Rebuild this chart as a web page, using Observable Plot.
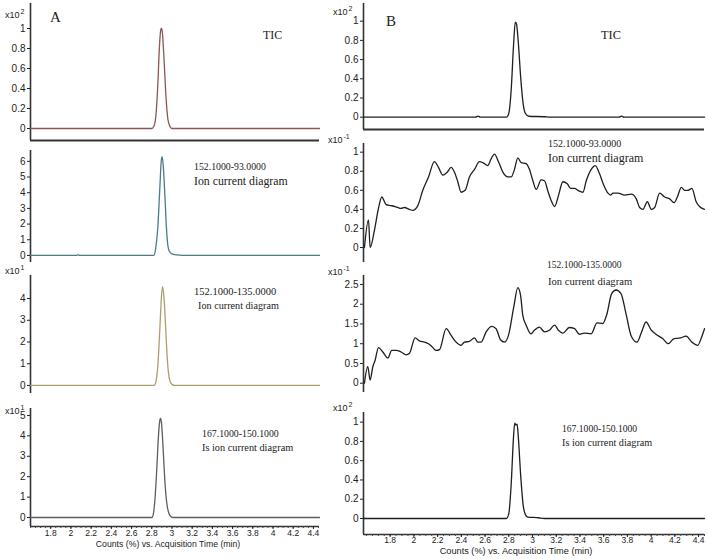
<!DOCTYPE html>
<html><head><meta charset="utf-8">
<script src="https://cdn.jsdelivr.net/npm/d3@7"></script>
<script src="https://cdn.jsdelivr.net/npm/@observablehq/plot@0.6"></script>
<style>
body{margin:0;background:#fff}
#wrap{position:relative;width:708px;height:559px;overflow:hidden;background:#fff;font-family:"Liberation Sans",Arial,sans-serif}
#wrap svg{position:absolute;overflow:visible}
.note{position:absolute;font-family:"Liberation Serif","Times New Roman",serif;color:#222;white-space:nowrap;line-height:1}
.mult{position:absolute;font-size:9px;color:#222;white-space:nowrap;line-height:1}
.mult sup{font-size:7px;vertical-align:4px;margin-left:1px}
</style></head><body><div id="wrap"></div><script>
// ---------- data ----------
const xTickValues = [1.8,2,2.2,2.4,2.6,2.8,3,3.2,3.4,3.6,3.8,4,4.2,4.4];
const xTitle = "Counts (%) vs. Acquisition Time (min)";
const panelLetters = ["A","B"];
const ticLabel = "TIC";
const transitions = ["152.1000-93.0000","152.1000-135.0000","167.1000-150.1000"];
const ionLabel = "Ion current diagram";
const isLabel = "Is ion current diagram";

// Column A traces [time (min), counts]
const a1Tic = [[1.6,0],[2.8,0],[2.82,0.02],[2.84,0.12],[2.86,0.44],[2.875,0.8],[2.89,0.99],[2.897,1.0],[2.905,0.96],[2.92,0.72],[2.94,0.33],[2.96,0.09],[2.98,0.02],[3.0,0],[4.46,0]];
const a2Ion93 = [[1.6,0],[2.05,0],[2.07,0.04],[2.09,0],[2.82,0],[2.84,0.5],[2.86,1.8],[2.88,4.3],[2.895,6.1],[2.903,6.3],[2.915,5.6],[2.93,3.8],[2.945,1.8],[2.96,0.6],[2.975,0.25],[3.0,0.1],[3.05,0.03],[3.1,0],[4.46,0]];
const a3Ion135 = [[1.6,0],[2.825,0],[2.84,0.15],[2.86,0.9],[2.88,2.6],[2.895,4.0],[2.907,4.55],[2.92,4.1],[2.935,2.9],[2.95,1.5],[2.965,0.6],[2.98,0.2],[3.0,0.05],[3.03,0],[4.46,0]];
const a4IsIon = [[1.6,0],[2.805,0],[2.815,0.15],[2.83,0.8],[2.85,2.4],[2.865,3.9],[2.878,4.7],[2.887,4.85],[2.897,4.6],[2.91,3.6],[2.925,2.2],[2.94,1.1],[2.955,0.5],[2.97,0.2],[2.99,0.05],[3.01,0],[4.46,0]];

// Column B traces
const b1Tic = [[1.575,0],[2.52,0],[2.54,0.012],[2.56,0],[2.78,0],[2.8,0.04],[2.82,0.28],[2.84,0.75],[2.855,0.99],[2.865,0.97],[2.88,0.78],[2.9,0.42],[2.92,0.15],[2.94,0.04],[2.97,0.01],[3.1,0.005],[3.15,0],[3.73,0],[3.75,0.012],[3.77,0],[4.45,0]];
const b2Ion93 = [[1.583,0],[1.617,0.29],[1.631,0],[1.667,0.18],[1.701,0.41],[1.729,0.53],[1.766,0.45],[1.808,0.44],[1.842,0.43],[1.864,0.42],[1.892,0.41],[1.92,0.42],[1.963,0.4],[1.991,0.39],[2.033,0.44],[2.075,0.6],[2.123,0.74],[2.173,0.9],[2.207,0.84],[2.244,0.76],[2.28,0.79],[2.314,0.84],[2.342,0.79],[2.37,0.69],[2.398,0.58],[2.432,0.6],[2.468,0.74],[2.511,0.82],[2.553,0.9],[2.581,0.89],[2.623,0.86],[2.651,0.93],[2.679,0.98],[2.713,0.9],[2.75,0.79],[2.792,0.74],[2.82,0.74],[2.848,0.82],[2.876,0.94],[2.904,0.89],[2.946,0.88],[2.974,0.82],[3.003,0.7],[3.031,0.61],[3.073,0.71],[3.101,0.7],[3.13,0.59],[3.158,0.49],[3.186,0.43],[3.22,0.55],[3.256,0.69],[3.293,0.67],[3.321,0.62],[3.355,0.62],[3.383,0.6],[3.425,0.58],[3.453,0.7],[3.495,0.82],[3.529,0.86],[3.566,0.77],[3.602,0.65],[3.636,0.57],[3.659,0.55],[3.678,0.57],[3.721,0.57],[3.777,0.55],[3.833,0.56],[3.875,0.51],[3.903,0.42],[3.931,0.4],[3.968,0.48],[4.002,0.4],[4.03,0.42],[4.072,0.57],[4.114,0.53],[4.157,0.51],[4.193,0.47],[4.221,0.53],[4.255,0.63],[4.283,0.6],[4.311,0.6],[4.344,0.62],[4.38,0.48],[4.408,0.43],[4.45,0.4]];
const b3Ion135 = [[1.583,0],[1.611,0.42],[1.631,0.08],[1.653,0.41],[1.673,0.58],[1.701,0.9],[1.738,0.79],[1.78,0.64],[1.814,0.83],[1.85,0.83],[1.892,0.79],[1.934,0.72],[1.963,0.76],[2.01,1.15],[2.047,1.07],[2.089,1.04],[2.123,1.0],[2.151,0.93],[2.187,0.83],[2.216,0.85],[2.272,1.38],[2.314,1.21],[2.356,1.04],[2.398,0.96],[2.426,1.04],[2.468,1.06],[2.511,1.15],[2.539,1.04],[2.567,1.04],[2.609,1.3],[2.657,1.44],[2.693,1.38],[2.73,1.1],[2.764,1.04],[2.797,1.21],[2.842,1.93],[2.876,2.42],[2.899,2.23],[2.918,1.72],[2.946,1.47],[2.987,1.25],[3.015,1.34],[3.058,1.42],[3.101,1.3],[3.142,1.34],[3.186,1.47],[3.218,1.34],[3.256,1.27],[3.31,1.41],[3.355,1.38],[3.394,1.24],[3.437,1.27],[3.495,1.25],[3.544,1.53],[3.591,1.51],[3.628,1.76],[3.667,2.27],[3.704,2.36],[3.746,2.27],[3.788,1.76],[3.833,1.19],[3.881,1.04],[3.92,1.3],[3.957,1.55],[4.002,1.34],[4.041,1.24],[4.097,1.13],[4.145,1.0],[4.193,1.13],[4.238,1.14],[4.295,1.19],[4.344,1.04],[4.393,0.96],[4.426,1.17],[4.45,1.38]];
const b4IsIon = [[1.575,0],[2.78,0],[2.8,0.05],[2.82,0.35],[2.84,0.85],[2.85,0.99],[2.86,0.97],[2.87,0.98],[2.88,0.85],[2.9,0.45],[2.92,0.15],[2.94,0.04],[2.96,0.015],[3.05,0.008],[3.1,0],[4.45,0]];

// y tick values per panel
const yTicksA1 = [0,0.2,0.4,0.6,0.8,1];
const yTicksA2 = [0,1,2,3,4,5,6];
const yTicksA3 = [0,1,2,3,4];
const yTicksA4 = [0,1,2,3,4,5];
const yTicksB1 = [0,0.2,0.4,0.6,0.8,1];
const yTicksB2 = [0,0.2,0.4,0.6,0.8,1];
const yTicksB3 = [0,0.5,1,1.5,2,2.5];
const yTicksB4 = [0,0.2,0.4,0.6,0.8,1];
const exponents = {A1:"2",A3:"1",A4:"1",B1:"2",B2:"-1",B3:"-1",B4:"2"};

// ---------- layout ----------
const xDomainA = [1.6, 4.46], xDomainB = [1.575, 4.45];
const panels = [
  {id:"A1", trace:a1Tic,   xDomain:xDomainA, yDomain:[-0.12,1.25], frame:[30,319,3,140],  yTicks:yTicksA1, color:"#8a5656", base:true},
  {id:"A2", trace:a2Ion93, xDomain:xDomainA, yDomain:[-0.45,6.69], frame:[30,319,150,262], yTicks:yTicksA2, color:"#4d7a88"},
  {id:"A3", trace:a3Ion135,xDomain:xDomainA, yDomain:[-0.37,5.06], frame:[30,319,275,393], yTicks:yTicksA3, color:"#ae9d6e"},
  {id:"A4", trace:a4IsIon, xDomain:xDomainA, yDomain:[-0.44,5.34], frame:[30,319,408,526], yTicks:yTicksA4, color:"#5e5e5e", xAxis:true, titleDx:-7, tickFont:8.5, titleFont:8.7, titleDy:20, tickSize:3, tickPad:0},
  {id:"B1", trace:b1Tic,   xDomain:xDomainB, yDomain:[-0.128,1.184], frame:[363,704,3,129], yTicks:yTicksB1, color:"#1f1f1f", base:true},
  {id:"B2", trace:b2Ion93, xDomain:xDomainB, yDomain:[-0.157,1.091], frame:[363,704,143,262], yTicks:yTicksB2, color:"#1f1f1f"},
  {id:"B3", trace:b3Ion135,xDomain:xDomainB, yDomain:[-0.235,2.727], frame:[363,704,275,392], yTicks:yTicksB3, color:"#1f1f1f"},
  {id:"B4", trace:b4IsIon, xDomain:xDomainB, yDomain:[-0.166,1.10], frame:[363,704,412,534], yTicks:yTicksB4, color:"#1f1f1f", xAxis:true, titleDx:-18, tickFont:8.5, titleFont:9.2, titleDy:19.5, tickSize:3, tickPad:-1}
];
const multPos = {A1:[5,8],A3:[5,264],A4:[5,404],B1:[333,5],B2:[328,133],B3:[328,265],B4:[333,401]};
const notes = [
  {text:panelLetters[0], x:50, y:17, size:15},
  {text:ticLabel, x:263, y:35, size:12},
  {text:panelLetters[1], x:386, y:21, size:15},
  {text:ticLabel, x:601, y:35, size:12.4},
  {text:transitions[0], x:194, y:167, size:9.8},
  {text:ionLabel, x:194, y:182, size:11.8},
  {text:transitions[0], x:548, y:144, size:10},
  {text:ionLabel, x:548, y:158, size:12},
  {text:transitions[1], x:194, y:292, size:10.5},
  {text:ionLabel, x:198, y:306, size:10.2},
  {text:transitions[1], x:547, y:266, size:9.5},
  {text:ionLabel, x:548, y:282, size:10.6},
  {text:transitions[2], x:202, y:434, size:9.8},
  {text:isLabel, x:202, y:448, size:10.3},
  {text:transitions[2], x:562, y:429, size:9.6},
  {text:isLabel, x:562, y:443, size:10.2}
];

// ---------- render ----------
const wrap = document.getElementById("wrap");
const fmt = d3.format("~g");
const minorTicks = d3.range(1.6, 4.451, 0.05);

for (const p of panels) {
  const [x0,x1,y0,y1] = p.frame;
  const ml = 44, mr = 4, mt = 4, mb = p.xAxis ? 30 : 4;
  const width = x1 - x0 + ml + mr, height = y1 - y0 + mt + mb;
  const marks = [
    Plot.axisY({ticks:p.yTicks, tickSize:3, tickPadding:2, tickFormat:fmt, fontSize:10, color:"#222", label:null}),
    Plot.ruleX([p.xDomain[0]], {stroke:"#333", strokeWidth:1.6}),
    Plot.line(p.trace, {x:d=>d[0], y:d=>d[1], stroke:p.color, strokeWidth:1.3, curve:"monotone-x"})
  ];
  if (p.base) marks.push(Plot.ruleY([p.yDomain[0]], {stroke:"#333", strokeWidth:2.2}));
  if (p.xAxis) {
    marks.push(
      Plot.ruleY([p.yDomain[0]], {stroke:"#333", strokeWidth:1.6}),
      Plot.axisX({ticks:minorTicks.filter(t=>t>=p.xDomain[0]), tickSize:2, tickFormat:()=>"", color:"#444", label:null}),
      Plot.axisX({ticks:xTickValues, tickSize:p.tickSize, tickPadding:p.tickPad, tickFormat:fmt, fontSize:p.tickFont, color:"#222", label:null}),
      Plot.text([xTitle], {frameAnchor:"bottom", dx:p.titleDx, dy:p.titleDy, fontSize:p.titleFont, fill:"#222"})
    );
  }
  const svg = Plot.plot({
    width, height, marginLeft:ml, marginRight:mr, marginTop:mt, marginBottom:mb,
    x:{domain:p.xDomain, axis:p.xAxis ? undefined : null},
    y:{domain:p.yDomain},
    style:{background:"transparent", fontFamily:"'Liberation Sans', Arial, sans-serif", color:"#222"},
    marks
  });
  svg.style.left = (x0 - ml) + "px";
  svg.style.top = (y0 - mt) + "px";
  wrap.appendChild(svg);
  if (exponents[p.id]) {
    const m = document.createElement("div");
    m.className = "mult";
    m.style.left = multPos[p.id][0] + "px";
    m.style.top = multPos[p.id][1] + "px";
    m.innerHTML = "x10<sup>" + exponents[p.id] + "</sup>";
    wrap.appendChild(m);
  }
}
for (const n of notes) {
  const d = document.createElement("div");
  d.className = "note";
  d.textContent = n.text;
  d.style.fontSize = n.size + "px";
  d.style.left = n.x + "px";
  d.style.top = (n.y - n.size * 0.5) + "px";
  wrap.appendChild(d);
}
</script></body></html>
